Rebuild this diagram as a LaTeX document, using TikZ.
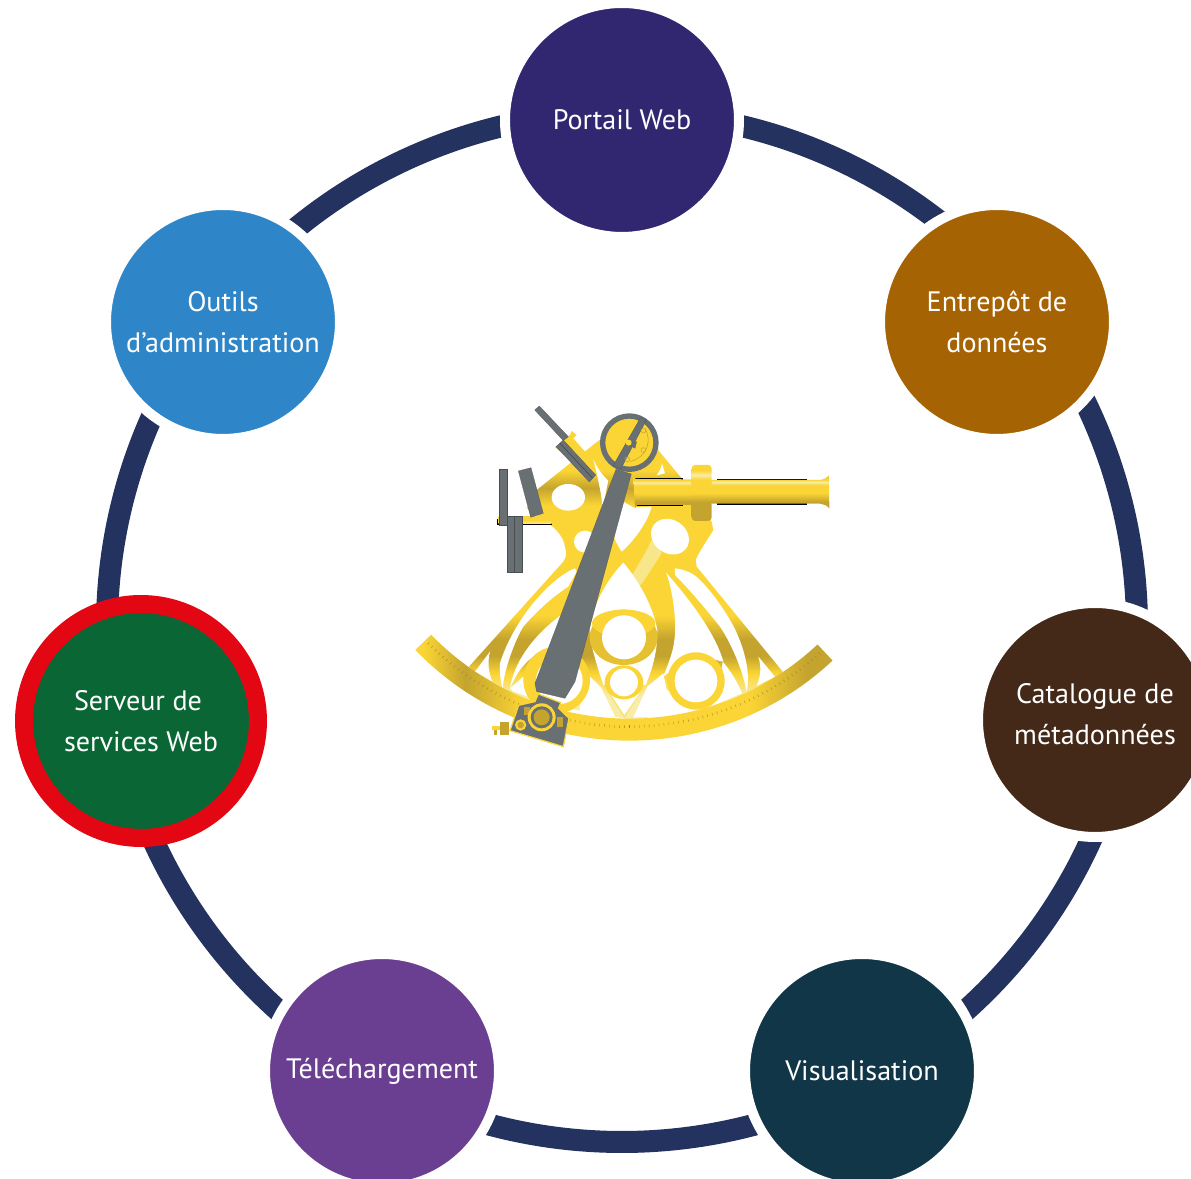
\documentclass[tikz,border=0pt]{standalone}
\usepackage{fontspec}
\setmainfont{PT Sans}
\definecolor{ringc}{HTML}{23325E}
\definecolor{cportail}{HTML}{312771}
\definecolor{centrepot}{HTML}{A66303}
\definecolor{ccatalogue}{HTML}{442918}
\definecolor{cvisu}{HTML}{113647}
\definecolor{ctele}{HTML}{6A3F92}
\definecolor{cserveur}{HTML}{0A6735}
\definecolor{credring}{HTML}{E30613}
\definecolor{coutils}{HTML}{2E86C8}
\definecolor{gold}{HTML}{FBD535}
\definecolor{golddk}{HTML}{C4A42E}
\definecolor{goldlt}{HTML}{F8EDA8}
\definecolor{steel}{HTML}{687074}
\pgfdeclareverticalshading{framebands}{100bp}{color(0bp)=(goldlt);color(25bp)=(goldlt);color(29bp)=(goldlt);color(33bp)=(gold);color(36bp)=(golddk);color(39bp)=(golddk);color(43bp)=(gold);color(62bp)=(gold);color(65bp)=(golddk);color(68bp)=(gold);color(100bp)=(gold)}
\pgfdeclarehorizontalshading{limbbands}{100bp}{color(0bp)=(gold);color(26bp)=(gold);color(31bp)=(golddk);color(38bp)=(gold);color(65bp)=(gold);color(72bp)=(golddk);color(75bp)=(golddk);color(100bp)=(golddk)}
\pgfdeclareverticalshading{tubeband}{100bp}{color(0bp)=(golddk);color(25bp)=(golddk);color(35bp)=(golddk);color(48bp)=(gold);color(60bp)=(gold);color(65bp)=(goldlt);color(68bp)=(gold);color(100bp)=(golddk)}
\pgfdeclareverticalshading{collarband}{100bp}{color(0bp)=(golddk);color(25bp)=(golddk);color(42bp)=(golddk);color(50bp)=(gold);color(62bp)=(gold);color(66bp)=(goldlt);color(70bp)=(gold);color(100bp)=(gold)}
\tikzset{
  station/.style={circle,inner sep=0pt,minimum size=4.68cm,draw=white,line width=0.2cm,text=white,align=center,
    font=\fontsize{16}{23.4}\selectfont},
  ringarc/.style={draw=ringc,line width=0.44cm},
  steelpart/.style={fill=steel,draw=steel!70!black,line width=0.1pt},
  hole/.style={fill=white},
}
\begin{document}
\begin{tikzpicture}[x=0.02cm,y=0.02cm]
\useasboundingbox (0,0) rectangle (1191,1179);
\clip (0,0) rectangle (1191,1179);
\coordinate (ctr) at (622,552);
% ring segments, trimmed by the white halo of each station
\draw[ringarc] ([shift={(ctr)}]80:515) arc[start angle=80,end angle=49,radius=515];
\draw[ringarc] ([shift={(ctr)}]29:515) arc[start angle=29,end angle=-1,radius=515];
\draw[ringarc] ([shift={(ctr)}]-21:515) arc[start angle=-21,end angle=-51,radius=515];
\draw[ringarc] ([shift={(ctr)}]-71:515) arc[start angle=-71,end angle=-109,radius=515];
\draw[ringarc] ([shift={(ctr)}]-129:515) arc[start angle=-129,end angle=-158,radius=515];
\draw[ringarc] ([shift={(ctr)}]180:515) arc[start angle=180,end angle=153,radius=515];
\draw[ringarc] ([shift={(ctr)}]132:515) arc[start angle=132,end angle=100,radius=515];
% stations
\node[station,fill=cportail] (portail) at (622,1059) {Portail Web};
\node[station,fill=centrepot] (entrepot) at (997,857) {Entrepôt de\\données};
\node[station,fill=ccatalogue] (catalogue) at (1095,459) {\raisebox{-2pt}[0pt][0pt]{\begin{tabular}[c]{@{}c@{}}Catalogue de\\métadonnées\end{tabular}}};
\node[station,fill=cvisu] (visu) at (862,108) {Visualisation};
\node[station,fill=ctele] (tele) at (382,108) {Téléchargement};
\node[station,fill=cserveur,draw=credring,line width=0.36cm] (serveur) at (141,458) {\hspace*{-0.12cm}Serveur de\\services Web};
\node[station,fill=coutils] (outils) at (223,857) {Outils\\d’administration};
% sextant, written in the 3x crop coordinates
\begin{scope}[shift={(400,789)},x=0.00667cm,y=-0.00667cm]
% frame
\path[shading=framebands]
  (207,830) -- (490,515) .. controls (500,500) and (500,490) .. (495,470)
  .. controls (490,440) and (470,420) .. (452,405) -- (380,355) -- (410,300)
  -- (592,155) -- (640,120) -- (770,175) -- (845,265) -- (935,395) -- (940,420)
  .. controls (925,445) and (900,480) .. (887,510) -- (890,530)
  -- (1148,845) -- (1100,920) -- (700,990) -- (300,920) -- cycle;
\fill[goldlt,opacity=0.75] (785,490) -- (730,575) -- (700,610) -- (685,575) -- (735,490) -- (760,440) -- cycle;
% openings in the frame
\fill[hole] (505,322) ellipse[x radius=50,y radius=40];
\fill[hole,rotate around={-35:(810,440)}] (810,440) ellipse[x radius=60,y radius=50];
\fill[hole] (555,455) circle[radius=33];
\fill[hole] (580,208) .. controls (590,230) and (605,255) .. (625,272) -- (608,355) .. controls (605,310) and (590,250) .. (580,208) -- cycle;
\fill[hole] (660,330) -- (700,352) -- (755,350) .. controls (745,390) and (710,445) .. (665,485) .. controls (655,470) and (645,450) .. (635,425) -- cycle;
\fill[hole] (770,256) .. controls (778,245) and (785,232) .. (786,220) -- (795,250) -- cycle;
% small triangles
\fill[hole] (225,845) -- (270,785) .. controls (262,815) and (265,850) .. (278,875) -- cycle;
\fill[hole] (1075,800) -- (1125,860) -- (1070,888) .. controls (1082,860) and (1085,830) .. (1075,800) -- cycle;
% leaves
\fill[hole] (525,535) .. controls (450,565) and (340,690) .. (300,820)
  .. controls (298,850) and (302,875) .. (308,895)
  .. controls (312,840) and (345,750) .. (370,710)
  .. controls (400,675) and (450,625) .. (505,590) -- (530,545) -- cycle;
\fill[hole] (490,670) .. controls (420,720) and (345,800) .. (330,895)
  .. controls (345,860) and (370,810) .. (430,782) -- (480,760) -- cycle;
\fill[hole] (330,895) -- (370,860) -- (398,925) -- (340,905) -- cycle;
\fill[hole] (825,535) .. controls (860,540) and (880,550) .. (900,570)
  .. controls (950,620) and (1000,700) .. (1015,740)
  .. controls (1040,800) and (1050,860) .. (1040,905)
  .. controls (1030,850) and (1000,770) .. (960,710)
  .. controls (920,660) and (870,600) .. (825,555) -- cycle;
\fill[hole] (798,548) .. controls (815,590) and (828,670) .. (825,730)
  .. controls (822,790) and (800,830) .. (790,860) -- (880,795) -- (970,815)
  .. controls (950,740) and (880,640) .. (798,548) -- cycle;
\fill[hole] (968,815) .. controls (990,840) and (1012,875) .. (1026,910) -- (935,948) -- (960,880) -- cycle;
% teardrop and the openings beneath it
\fill[hole] (670,518) .. controls (620,570) and (575,650) .. (570,720) -- (575,765)
  .. controls (585,810) and (600,855) .. (610,885) -- (737,885)
  .. controls (752,850) and (765,810) .. (770,765) -- (772,720)
  .. controls (760,650) and (715,570) .. (670,518) -- cycle;
\fill[hole] (540,972) -- (645,980) -- (603,892) -- (560,850) -- (540,925) -- cycle;
\fill[hole] (700,982) .. controls (770,982) and (830,975) .. (915,948) -- (800,900) -- (790,850) -- (742,890) -- cycle;
% rings on the frame
\fill[gold] (470,870) circle[radius=100];
\fill[hole] (478,872) circle[radius=70];
\fill[gold!60!golddk] (671,742) ellipse[x radius=102,y radius=83];
\fill[gold] (671,700) ellipse[x radius=95,y radius=41];
\fill[gold] (888,873) circle[radius=86];
% V beneath the small ring
\fill[goldlt!50!gold] (610,885) -- (735,885) -- (673,985) -- cycle;
\fill[hole] (627,905) -- (722,905) -- (673,975) -- cycle;
\fill[gold] (672,877) ellipse[x radius=58,y radius=51];
\fill[hole] (672,742) circle[radius=66];
\fill[hole] (888,873) circle[radius=64];
\fill[hole] (672,877) circle[radius=42];
% limb
\path[shading=limbbands]
  ([shift={(688,158)}]135.9:894) arc[start angle=135.9,end angle=47,radius=894]
  -- ([shift={(688,158)}]47:828) arc[start angle=47,end angle=135.9,radius=828] -- cycle;
\foreach \a in {48,49,...,135}{
  \draw[golddk!80!black,line width=0.2pt] ([shift={(688,158)}]\a:848) -- ([shift={(688,158)}]\a:856);
}
% rod and shades at left
\fill[black] (292,386) rectangle (455,406);
\path[top color=gold,bottom color=goldlt,middle color=gold] (296,380) rectangle (455,402);
\fill[steelpart] (297,238) rectangle (320,405);
\fill[steelpart] (322,377) rectangle (365,545);
\draw[steel!70!black,line width=0.3pt] (342,377) -- (342,545);
\fill[steelpart] (355,243) -- (393,233) -- (430,370) -- (392,382) -- cycle;
% upper shade
\fill[gold] (465,172) -- (510,135) -- (515,123) -- (530,135) -- (520,145) -- (555,185) -- (520,215) -- cycle;
\fill[steelpart] (404,60) -- (418,48) -- (505,140) -- (490,152) -- cycle;
\fill[steelpart] (468,170) -- (490,150) -- (587,255) -- (568,276) -- cycle;
\draw[steel!60!black,line width=0.3pt] (480,160) -- (578,265);
% telescope
\fill[black] (705,265) rectangle (850,347);
\fill[black] (950,267) rectangle (1222,344);
\path[shading=tubeband] (700,258) -- (707,267) -- (875,268) -- (875,345) -- (712,345) -- (705,355) -- cycle;
\path[shading=tubeband] (935,270) -- (1260,270) .. controls (1272,268) and (1282,262) .. (1287,256)
  -- (1288,355) .. controls (1280,345) and (1270,343) .. (1260,341) -- (935,341) -- cycle;
\path[shading=collarband,rounded corners=2pt] (875,225) rectangle (935,393);
% index arm and arc
\fill[steelpart] (648,238) -- (694,252) -- (525,875) -- (495,925) -- (410,905) -- (405,880) -- cycle;
\fill[gold] (688,158) circle[radius=78];
\draw[steel,line width=0.107cm] (688,158) circle[radius=80];
\fill[steelpart] (722,82) -- (738,92) -- (662,238) -- (640,226) -- cycle;
\fill[steelpart] (680,160) -- (710,155) -- (705,175) -- cycle;
\fill[gold] (686,158) circle[radius=9];
\draw[golddk,line width=0.3pt] (730,122) circle[radius=7] (730,180) circle[radius=7] (682,208) circle[radius=7];
\draw[golddk,line width=0.3pt] (735,115) .. controls (755,150) and (745,200) .. (690,215);
% index head
\fill[steelpart,draw=gold,line width=0.7pt] (415,912) -- (482,938) -- (476,955) -- (507,985) -- (490,1070) -- (330,1022) -- (356,946) -- (405,935) -- cycle;
\fill[golddk] (372,950) rectangle (390,975);
\fill[golddk] (470,982) rectangle (490,1010);
\fill[gold] (425,982) circle[radius=42];
\fill[steel] (425,982) circle[radius=33];
\fill[golddk] (425,982) circle[radius=24];
\fill[gold] (362,1005) circle[radius=17];
\fill[golddk] (362,1005) circle[radius=10];
\fill[golddk] (300,995) rectangle (328,1036);
\fill[gold] (277,1008) -- (300,1008) -- (300,1020) -- (277,1020) -- cycle;
\fill[golddk] (282,1020) rectangle (292,1035);
\end{scope}
\end{tikzpicture}
\end{document}
